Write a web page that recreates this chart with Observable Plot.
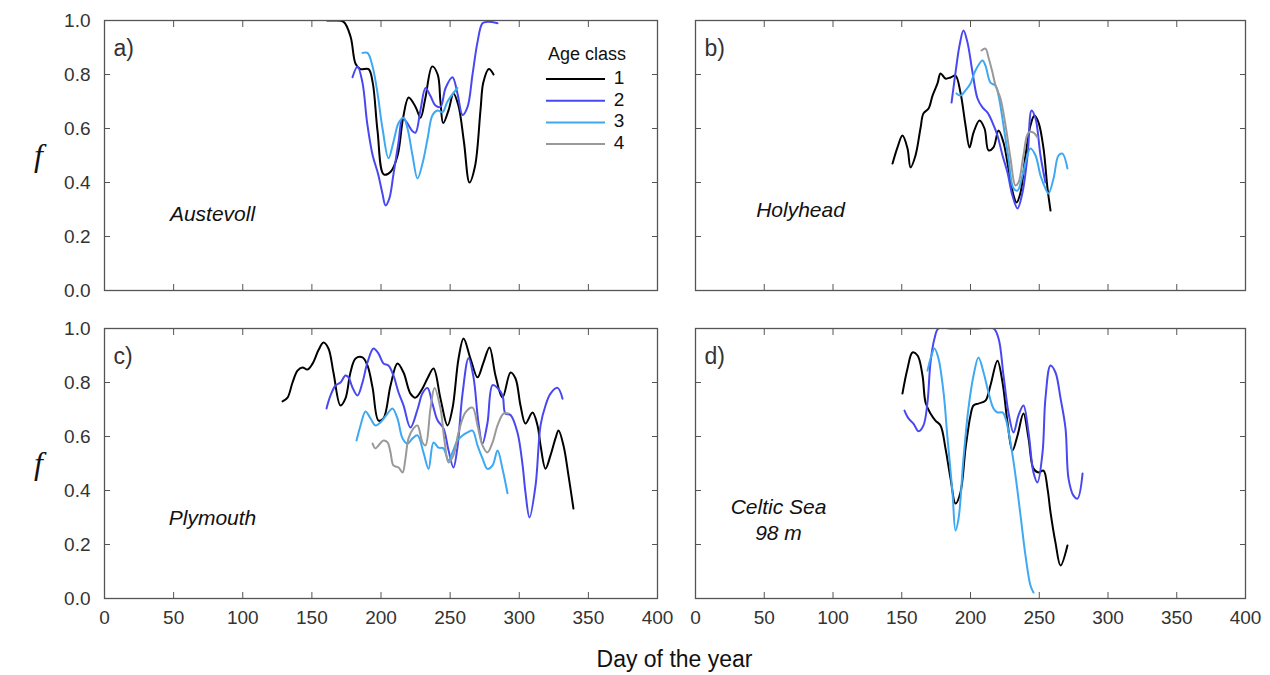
<!DOCTYPE html>
<html>
<head>
<meta charset="utf-8">
<script src="https://cdn.jsdelivr.net/npm/d3@7"></script>
<script src="https://cdn.jsdelivr.net/npm/@observablehq/plot@0.6"></script>
<style>
  body { margin: 0; background: #fff; font-family: "Liberation Sans", Arial, sans-serif; }
  #fig { position: relative; width: 1270px; height: 675px; overflow: hidden; background: #fff; }
  .panel { position: absolute; }
  #xlabel { position: absolute; left: 104px; width: 1141px; top: 646px; text-align: center; font-size: 23px; color: #111; }
</style>
</head>
<body>
<div id="fig"><div id="xlabel">Day of the year</div></div>
<script>
// ---- categories, ticks, labels ----
const ageClasses = ["1", "2", "3", "4"];
const ageColors = ["#000000", "#4848f0", "#3ea8f3", "#999999"];
const xTicks = [0, 50, 100, 150, 200, 250, 300, 350, 400];
const yTicks = [0, 0.2, 0.4, 0.6, 0.8, 1.0];
const panelLetters = ["a)", "b)", "c)", "d)"];
const stationNames = ["Austevoll", "Holyhead", "Plymouth", "Celtic Sea\n98 m"];
const legendTitle = "Age class";
const xLabel = "Day of the year";
const yLabel = "f";

// ---- series: [day of year, f] ----
const austevoll1 = [[161,1.0],[167,1.0],[173,0.995],[178,0.94],[181.6,0.84],[185,0.82],[191,0.82],[194,0.77],[197.5,0.59],[202,0.43],[207,0.44],[212,0.5],[216,0.64],[220,0.715],[225,0.68],[228.6,0.64],[232,0.71],[237,0.83],[241,0.8],[243,0.7],[245,0.62],[249,0.67],[252.4,0.73],[256,0.685],[260,0.55],[264,0.40],[268,0.46],[272,0.67],[274,0.77],[278,0.82],[281.4,0.80]];
const austevoll2 = [[179.4,0.79],[183,0.83],[186.6,0.77],[190,0.62],[194,0.5],[198,0.43],[201,0.36],[203.3,0.315],[206,0.34],[209,0.43],[212.7,0.55],[215.6,0.64],[219,0.62],[222.8,0.59],[225,0.585],[228.6,0.67],[232.2,0.75],[235.8,0.72],[239.4,0.685],[243,0.68],[246.7,0.75],[251.7,0.79],[255.3,0.73],[259,0.65],[262.6,0.68],[266.2,0.8],[269.8,0.92],[273.4,0.99],[277,0.995],[284.3,0.99]];
const austevoll3 = [[186.6,0.88],[190.2,0.88],[193.9,0.83],[197.5,0.73],[201.1,0.6],[205.4,0.49],[209,0.55],[212.7,0.62],[216.3,0.64],[219.2,0.6],[222.8,0.5],[226.4,0.415],[230,0.47],[233.6,0.56],[237.3,0.65],[240.9,0.667],[244.5,0.66],[248.1,0.7],[255.3,0.75]];

const holyhead1 = [[143.3,0.47],[146.9,0.53],[150.5,0.574],[154.2,0.526],[156.4,0.456],[160,0.5],[163.6,0.6],[165.8,0.656],[169.5,0.674],[172.4,0.722],[176,0.767],[178.2,0.804],[181.8,0.785],[185.5,0.789],[189.1,0.796],[192.7,0.733],[196.4,0.611],[199.3,0.53],[202.2,0.585],[206.5,0.63],[210.2,0.6],[213.1,0.519],[216.7,0.53],[220.4,0.593],[224,0.548],[227.6,0.452],[231.3,0.352],[233.5,0.326],[236.4,0.363],[240,0.5],[243.6,0.611],[246.5,0.648],[249.5,0.622],[253.1,0.526],[256,0.378],[258.2,0.296]];
const holyhead2 = [[186.2,0.696],[189.1,0.807],[192,0.907],[194.9,0.963],[197.8,0.919],[201.5,0.807],[205.1,0.711],[208.7,0.678],[212.4,0.659],[216,0.622],[219.6,0.574],[223.3,0.5],[226.9,0.437],[230.5,0.352],[234.2,0.304],[237.8,0.363],[241.5,0.5],[244.4,0.667],[247.3,0.637],[250.9,0.5],[254.5,0.4]];
const holyhead3 = [[189.8,0.73],[192.7,0.722],[196.4,0.741],[200,0.767],[203.6,0.815],[208.7,0.852],[210.9,0.833],[214.5,0.77],[218.2,0.759],[220.4,0.722],[224,0.611],[227.6,0.489],[231.3,0.378],[234.2,0.37],[237.8,0.426],[240,0.474],[243.6,0.526],[247.3,0.5],[250.9,0.426],[254.5,0.378],[256.7,0.359],[260.4,0.415],[264,0.5],[266.9,0.507],[270.5,0.452]];
const holyhead4 = [[208,0.889],[210.9,0.896],[213.1,0.863],[216,0.807],[218.2,0.759],[221.8,0.711],[225.5,0.611],[229.1,0.489],[232.7,0.389],[234.9,0.4],[238.5,0.5],[242.2,0.585],[245.8,0.585],[248.7,0.567]];

const plymouth1 = [[128.8,0.73],[132.4,0.744],[136,0.8],[139.6,0.844],[143.2,0.856],[146.8,0.848],[150.5,0.87],[154.8,0.92],[158.4,0.948],[162,0.926],[165.6,0.837],[170.7,0.715],[174.3,0.741],[177.9,0.837],[181.6,0.889],[186.6,0.893],[190.2,0.863],[193.9,0.781],[198.2,0.659],[201.8,0.667],[206.9,0.789],[211.9,0.87],[216.3,0.837],[221.3,0.759],[225,0.744],[230,0.778],[233.6,0.815],[238,0.852],[243,0.741],[248.1,0.641],[251.7,0.704],[256.1,0.889],[259.7,0.963],[264.7,0.889],[269.8,0.819],[274.1,0.874],[278.5,0.93],[282.8,0.826],[287.9,0.744],[293.7,0.837],[297.3,0.815],[300.9,0.715],[304.5,0.648],[309.6,0.689],[313.2,0.641],[315.4,0.567],[319,0.481],[322.6,0.53],[326.2,0.593],[328.4,0.622],[332,0.567],[335.6,0.456],[339.2,0.333]];
const plymouth2 = [[160.6,0.704],[163.5,0.752],[167.1,0.789],[170.7,0.8],[174.3,0.826],[176.5,0.819],[179.4,0.781],[183,0.752],[186.6,0.8],[190.2,0.874],[194.6,0.926],[198.2,0.907],[201.8,0.87],[205.4,0.863],[209,0.826],[212.7,0.763],[216.3,0.715],[221.3,0.633],[226.4,0.7],[230,0.76],[233.6,0.78],[237.3,0.72],[240.9,0.66],[245.2,0.63],[248.8,0.55],[252.4,0.485],[255.3,0.56],[259,0.76],[263.3,0.89],[266.9,0.82],[270.5,0.65],[273.4,0.574],[277,0.65],[280.7,0.79],[284.3,0.78],[287.9,0.752],[290,0.685],[293.7,0.68],[298.7,0.615],[302.4,0.494],[304.5,0.393],[307.4,0.3],[311.8,0.419],[315.4,0.641],[319,0.715],[322.6,0.759],[327.7,0.78],[331.3,0.74]];
const plymouth3 = [[182.3,0.585],[185.2,0.641],[188.8,0.693],[192.4,0.667],[196,0.641],[199.6,0.652],[204.7,0.685],[208.3,0.704],[211.9,0.667],[215.6,0.593],[219.2,0.574],[222.8,0.593],[226.4,0.604],[230.7,0.541],[234.4,0.48],[238,0.578],[241.6,0.559],[245.2,0.556],[248.8,0.511],[251.7,0.541],[255.3,0.585],[259,0.604],[262.6,0.615],[266.2,0.622],[269.8,0.567],[273.4,0.519],[277,0.48],[280.7,0.493],[284.3,0.548],[287.9,0.48],[291.5,0.39]];
const plymouth4 = [[193.9,0.574],[196,0.556],[198.2,0.567],[201.8,0.585],[204.7,0.578],[206.9,0.541],[209,0.493],[212.7,0.485],[215.6,0.467],[217.7,0.519],[219.9,0.593],[223.5,0.63],[226.4,0.641],[230,0.578],[232.2,0.567],[235.8,0.704],[238.7,0.78],[243,0.704],[245.9,0.585],[248.8,0.504],[252.4,0.53],[256.1,0.615],[261.1,0.689],[266.2,0.707],[269.8,0.641],[273.4,0.567],[277,0.541],[280.7,0.578],[284.3,0.641],[288.6,0.685],[292.2,0.685]];

const celtic1 = [[150.5,0.759],[154.2,0.852],[157.8,0.911],[161.5,0.9],[165.1,0.826],[167.3,0.726],[170.9,0.685],[174.5,0.659],[178.2,0.641],[181.8,0.556],[185.5,0.444],[189.1,0.352],[192.7,0.393],[196.4,0.556],[200,0.678],[202.2,0.715],[205.8,0.722],[210.9,0.733],[214.5,0.789],[219.6,0.881],[223.3,0.8],[226.9,0.652],[230.5,0.548],[234.2,0.604],[238.5,0.685],[242.2,0.593],[245.8,0.481],[249.5,0.467],[253.1,0.474],[256,0.407],[258.2,0.319],[261.8,0.207],[265.5,0.122],[270.5,0.196]];
const celtic2 = [[152,0.696],[154.9,0.667],[158.5,0.648],[162.2,0.619],[165.8,0.641],[168.7,0.726],[170.9,0.874],[173.8,0.963],[176.7,1.0],[185,1.0],[195,1.0],[205,1.0],[216.7,1.0],[220.4,0.963],[224,0.826],[227.6,0.689],[231.3,0.615],[234.9,0.678],[238.5,0.715],[242.2,0.615],[245.8,0.467],[248.7,0.43],[252.4,0.541],[254.5,0.741],[258.2,0.863],[261.8,0.837],[265.5,0.741],[269.1,0.63],[271.3,0.444],[274.9,0.381],[277.8,0.37],[281.5,0.463]];
const celtic3 = [[168.7,0.844],[171.6,0.9],[173.8,0.926],[176.7,0.889],[180.4,0.763],[183.3,0.593],[186.9,0.393],[189.1,0.252],[191.3,0.296],[194.9,0.519],[198.5,0.704],[202.2,0.826],[205.8,0.893],[209.5,0.837],[213.1,0.763],[216.7,0.704],[219.6,0.689],[223.3,0.689],[225.5,0.667],[229.1,0.578],[232.7,0.456],[236.4,0.307],[240,0.159],[243.6,0.048],[245.8,0.022]];

// ---- panel layout (container positions & margins) ----
const panels = [
  {series: [["1", austevoll1], ["2", austevoll2], ["3", austevoll3]], left: 0, top: 0, width: 660, height: 300, mL: 104, mR: 3, mT: 20, mB: 10, showX: false, showY: true, legend: true, nameDx: 108, nameDy: 192},
  {series: [["1", holyhead1], ["2", holyhead2], ["3", holyhead3], ["4", holyhead4]], left: 660, top: 0, width: 595, height: 300, mL: 35, mR: 10, mT: 20, mB: 10, showX: false, showY: false, nameDx: 105, nameDy: 188},
  {series: [["1", plymouth1], ["2", plymouth2], ["3", plymouth3], ["4", plymouth4]], left: 0, top: 308, width: 660, height: 340, mL: 104, mR: 3, mT: 20, mB: 50, showX: true, showY: true, nameDx: 108, nameDy: 188},
  {series: [["1", celtic1], ["2", celtic2], ["3", celtic3]], left: 660, top: 308, width: 595, height: 340, mL: 35, mR: 10, mT: 20, mB: 50, showX: true, showY: false, nameDx: 83, nameDy: 190}
];

const fig = document.getElementById("fig");
const frameColor = "#555";
const textColor = "#333";

panels.forEach((p, i) => {
  const rows = p.series.flatMap(([age, pts]) => pts.map(([day, f]) => ({day, f, age})));
  const marks = [
    Plot.axisX(xTicks, {anchor: "bottom", tickSize: -6, fill: "none", stroke: frameColor, label: null}),
    Plot.axisX(xTicks, {anchor: "top", tickSize: -6, fill: "none", stroke: frameColor, label: null}),
    Plot.axisY(yTicks, {anchor: "left", tickSize: -6, fill: "none", stroke: frameColor, label: null}),
    Plot.axisY(yTicks, {anchor: "right", tickSize: -6, fill: "none", stroke: frameColor, label: null}),
    Plot.line(rows, {x: "day", y: "f", z: "age", stroke: "age", strokeWidth: 2, curve: "catmull-rom", clip: true}),
    Plot.frame({stroke: frameColor, strokeWidth: 1.3}),
    Plot.text([panelLetters[i]], {text: d => d, frameAnchor: "top-left", dx: 9, dy: 28, textAnchor: "start", lineAnchor: "middle", fontSize: 23, fill: textColor}),
    Plot.text([stationNames[i]], {text: d => d, frameAnchor: "top-left", dx: p.nameDx, dy: p.nameDy, textAnchor: "middle", lineAnchor: "middle", fontSize: 21, fontStyle: "italic", lineHeight: 1.25, fill: "#111"})
  ];
  if (p.showX) marks.push(Plot.axisX(xTicks, {anchor: "bottom", tickSize: 0, tickPadding: 12, stroke: "none", fill: textColor, fontSize: 19, label: null, tickFormat: d => String(d)}));
  else marks.push(Plot.axisX(xTicks, {anchor: "bottom", tickSize: 0, stroke: "none", fill: "none", label: null}));
  if (p.showY) {
    marks.push(Plot.axisY(yTicks, {anchor: "left", tickSize: 0, tickPadding: 14, stroke: "none", fill: textColor, fontSize: 19, label: null, tickFormat: d => d.toFixed(1)}));
    marks.push(Plot.text([yLabel], {text: d => d, frameAnchor: "left", dx: -66, textAnchor: "middle", fontSize: 32, fontStyle: "italic", fontFamily: "Liberation Serif", fill: "#111"}));
  } else {
    marks.push(Plot.axisY(yTicks, {anchor: "left", tickSize: 0, stroke: "none", fill: "none", label: null}));
  }
  const chart = Plot.plot({
    width: p.width,
    height: p.height,
    marginLeft: p.mL, marginRight: p.mR, marginTop: p.mT, marginBottom: p.mB,
    x: {domain: [0, 400]},
    y: {domain: [0, 1]},
    color: {domain: ageClasses, range: ageColors},
    style: {fontFamily: "'Liberation Sans', Arial, sans-serif", fontSize: "19px", background: "transparent", overflow: "visible", color: textColor},
    marks
  });
  chart.classList.add("panel");
  chart.style.left = p.left + "px";
  chart.style.top = p.top + "px";
  chart.style.maxWidth = "none";
  fig.appendChild(chart);

  if (p.legend) {
    const lg = d3.select(fig).append("svg").attr("class", "panel")
      .style("left", "530px").style("top", "38px").style("overflow", "visible")
      .attr("width", 120).attr("height", 125)
      .style("font-family", "'Liberation Sans', Arial, sans-serif");
    lg.append("text").attr("x", 57).attr("y", 17).attr("text-anchor", "middle")
      .attr("dominant-baseline", "middle").attr("font-size", 18).attr("fill", "#111").text(legendTitle);
    ageClasses.forEach((a, k) => {
      const y = 41 + k * 21.7;
      lg.append("line").attr("x1", 16).attr("x2", 75).attr("y1", y).attr("y2", y)
        .attr("stroke", ageColors[k]).attr("stroke-width", 2);
      lg.append("text").attr("x", 89).attr("y", y).attr("text-anchor", "middle")
        .attr("dominant-baseline", "middle").attr("font-size", 19).attr("fill", "#111").text(a);
    });
  }
});
document.getElementById("xlabel").textContent = xLabel;
</script>
</body>
</html>
